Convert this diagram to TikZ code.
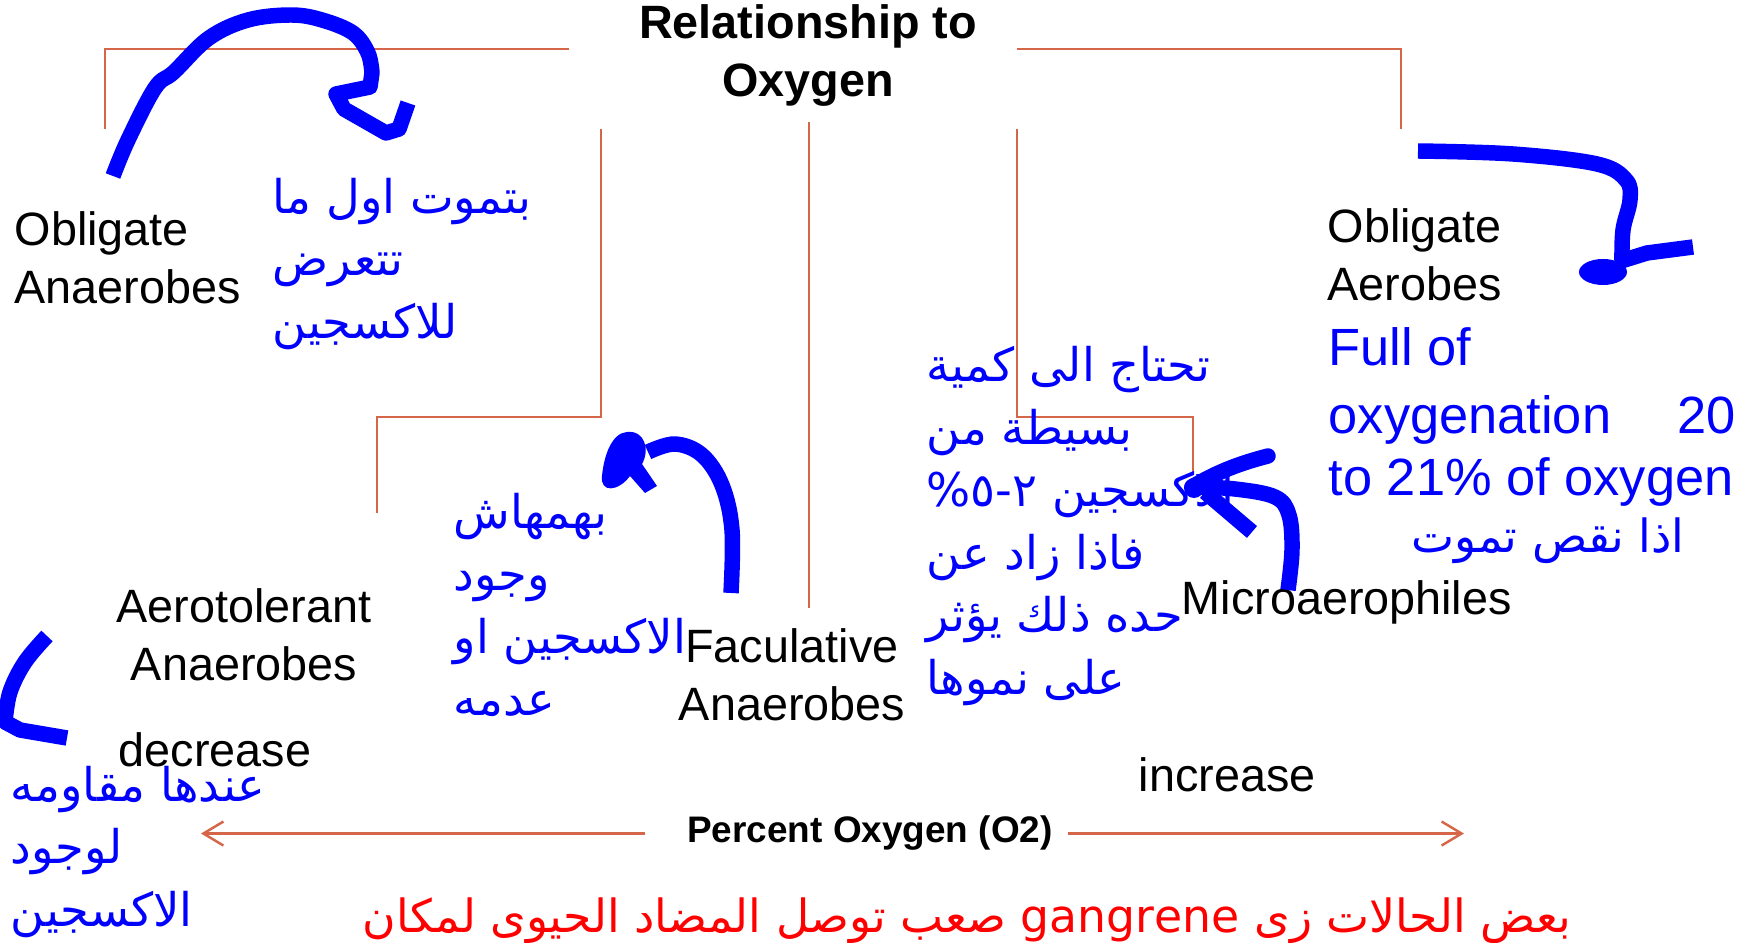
\documentclass[tikz,border=0pt]{standalone}
\usepackage{fontspec}
\setmainfont{Liberation Sans}
\newfontfamily\arabicfont[Script=Arabic]{DejaVu Sans}
\usetikzlibrary{arrows.meta}
\TeXXeTstate=1

\definecolor{penblue}{RGB}{0,0,255}
\definecolor{linkred}{RGB}{214,102,74}
\definecolor{notered}{RGB}{255,0,0}
\newcommand{\artext}[1]{\beginR#1\endR}

\tikzset{
  kind/.style={inner sep=0pt, font=\fontsize{13.3}{16.5}\selectfont},
  arnote/.style={inner sep=0pt, align=left, text=penblue,
    font=\arabicfont\fontsize{13.2}{17.8}\selectfont},
  link/.style={draw=linkred, line width=0.7pt},
  pen/.style={draw=penblue, line width=4.4pt, line join=round}
}

\begin{document}
\begin{tikzpicture}[x=0.01cm, y=-0.01cm]
\useasboundingbox (0,0) rectangle (1756,943);

% title and the groups
\node[kind, align=center, font=\bfseries\fontsize{13.3}{16.5}\selectfont] (title) at (808,56) {Relationship to\\Oxygen};
\node[kind, align=left, anchor=west] (oanaer) at (14,258) {Obligate\\Anaerobes};
\node[kind, align=left, anchor=west] (oaer) at (1327,255) {Obligate\\Aerobes};
\node[kind, align=center] (facul) at (792,675) {Faculative\\Anaerobes};
\node[kind, align=center] (aerotol) at (244,635) {Aerotolerant\\Anaerobes};
\node[kind, anchor=base west] (micro) at (1181,615) {Microaerophiles};
\node[kind, anchor=base west] (decr) at (118,767) {decrease};
\node[kind, anchor=base west] (incr) at (1138,792) {increase};
\node[kind, anchor=base, font=\bfseries\fontsize{10.5}{12}\selectfont] (pct) at (870,843) {Percent Oxygen (O2)};

% connectors
\coordinate (t-w) at (569,49);
\coordinate (t-e) at (1017,49);
\coordinate (t-s) at (809,122);
\coordinate (l-drop) at (601,129);
\coordinate (r-drop) at (1017,129);
\coordinate (oan-top) at (105,129);
\coordinate (oae-top) at (1401,129);
\coordinate (fac-top) at (809,608);
\coordinate (aer-top) at (377,513);
\coordinate (mic-top) at (1193,473);
\draw[link] (t-w) -| (oan-top);
\draw[link] (t-e) -| (oae-top);
\draw[link] (t-s) -- (fac-top);
\draw[link] (l-drop) -- ++(0,288) -| (aer-top);
\draw[link] (r-drop) -- ++(0,288) -| (mic-top);

\coordinate (lo-tip) at (201,832);
\coordinate (hi-tip) at (1464,832);
\draw[link, -{Straight Barb[length=0.2cm, width=0.24cm]}] ([xshift=-0.42cm]pct.west) -- (pct.west -| lo-tip);
\draw[link, -{Straight Barb[length=0.2cm, width=0.24cm]}] ([xshift=0.15cm]pct.east) -- (pct.east -| hi-tip);

% notes
\node[kind, anchor=west, align=left, text=penblue, font=\fontsize{14.9}{17.6}\selectfont] (full) at (1328,417)
  {Full of\\[1.7pt]\makebox[4.07cm]{oxygenation\hfill 20}\\to 21\% of oxygen};
\node[arnote, anchor=west] (n1) at (272,264) {\artext{بتموت اول ما}\\\artext{تتعرض}\\\artext{للاكسجين}};
\node[arnote, anchor=west] (n2) at (926,526) {\artext{تحتاج الى كمية}\\\artext{بسيطة من}\\\artext{الاكسجين \hbox{٢-٥\%}}\\\artext{فاذا زاد عن}\\\artext{حده ذلك يؤثر}\\\artext{على نموها}};
\node[arnote, anchor=west] (n3) at (453,605) {\artext{بهمهاش}\\\artext{وجود}\\\artext{الاكسجين او}\\\artext{عدمه}};
\node[arnote, anchor=west] (n4) at (10,852) {\artext{عندها مقاومه}\\\artext{لوجود}\\\artext{الاكسجين}};
\node[arnote, font=\arabicfont\fontsize{13}{15}\selectfont] (n5) at (1548,541) {\artext{اذا نقص تموت}};
\node[arnote, anchor=base, text=notered, font=\arabicfont\fontsize{13}{16}\selectfont] (n6) at (967,933)
  {\artext{بعض الحالات زى \hbox{gangrene} صعب توصل المضاد الحيوى لمكان}};

% hand strokes
\draw[pen] plot[smooth, tension=0.6] coordinates {(113,176) (128,140) (155,88) (174,72) (209,38) (248,20) (291,15) (322,20) (353,33) (368,53) (372,73)}
  -- (370,87) -- (336,94) -- (344,109) -- (386,133) -- (399,129) -- (408,103);
\draw[pen] plot[smooth, tension=0.6] coordinates {(1418,151) (1513,154) (1597,164) (1626,180) (1630,200) (1623,230) (1622,262)};
\fill[penblue] (1603,272) ellipse [x radius=0.24cm, y radius=0.13cm];
\draw[pen] (1618,262) -- (1647,253) -- (1693,247);
\draw[pen] plot[smooth, tension=0.6] coordinates {(1288,590) (1292,550) (1289,515) (1275,497) (1235,489) (1192,487)};
\draw[pen, line cap=round] (1192,487) .. controls (1220,470) and (1245,462) .. (1268,456);
\draw[pen] (1205,492) -- (1252,532);
\fill[penblue] (1194,488) circle [radius=0.1cm];
\draw[pen] plot[smooth, tension=0.6] coordinates {(731,593) (732,530) (722,485) (702,455) (675,444) (648,452)};
\fill[penblue] (627,432) .. controls (645,430) and (650,450) .. (642,464) -- (657,486) -- (645,493) -- (630,476)
  .. controls (618,492) and (600,493) .. (602,476) .. controls (604,455) and (612,433) .. (627,432) -- cycle;
\draw[pen] plot[smooth, tension=0.6] coordinates {(47,636) (25,662) (10,692) (5,722)} -- (20,730) -- (67,738);
\end{tikzpicture}
\end{document}
